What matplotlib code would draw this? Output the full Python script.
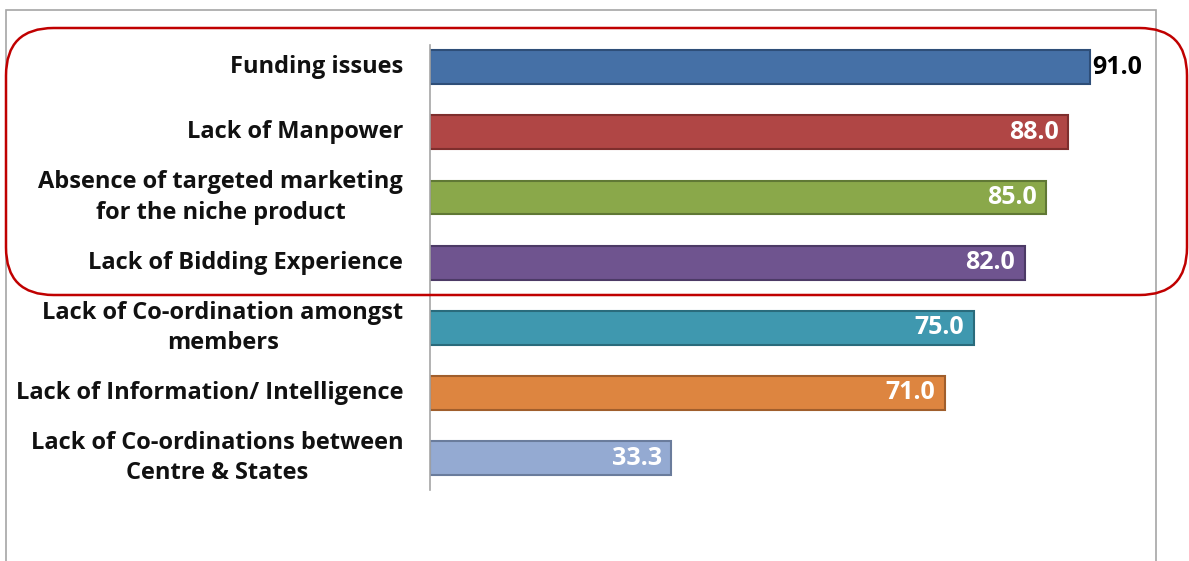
import matplotlib
matplotlib.use("Agg")
import matplotlib.pyplot as plt
from matplotlib.patches import FancyBboxPatch, Rectangle
import matplotlib.transforms as mtransforms

categories = [
    "Funding issues",
    "Lack of Manpower",
    "Absence of targeted marketing\nfor the niche product",
    "Lack of Bidding Experience",
    "Lack of Co-ordination amongst\nmembers",
    "Lack of Information/ Intelligence",
    "Lack of Co-ordinations between\nCentre & States",
]
values = [91.0, 88.0, 85.0, 82.0, 75.0, 71.0, 33.3]
colors = ["#4570A6", "#B04645", "#8AA84A", "#6F548F", "#3F98AF", "#DD8540", "#94AAD2"]
edges = ["#2E4E78", "#7E2E2D", "#607835", "#4C3A66", "#2A6B7C", "#A05E2C", "#6A7C9C"]
label_colors = ["black", "white", "white", "white", "white", "white", "white"]
outside = [True, False, False, False, False, False, False]

W, H = 1189, 561
fig = plt.figure(figsize=(W / 100, H / 100), dpi=100)
FONT = ["Open Sans", "DejaVu Sans"]

# outer gray frame
fig.patches.append(Rectangle((6 / W, -0.05), (1156 - 6) / W, (H - 10) / H + 0.05,
                             transform=fig.transFigure, fill=False,
                             edgecolor="#A6A6A6", linewidth=1.2))
# red rounded highlight box
fig.patches.append(FancyBboxPatch((6 / W, (H - 295) / H), (1187 - 6) / W, (295 - 28) / H,
                                  boxstyle="round,pad=0,rounding_size=0.04",
                                  transform=fig.transFigure, fill=False,
                                  edgecolor="#C00000", linewidth=1.8,
                                  mutation_aspect=W / H))

ax = fig.add_axes([430 / W, (H - 490) / H, (1155 - 430) / W, (490 - 45) / H])
ypos = list(range(len(categories)))
ax.barh(ypos, values, height=0.52, color=colors, edgecolor=edges, linewidth=1.5)
ax.set_xlim(0, 100)
ax.set_ylim(6.49, -0.34)
for s in ["top", "right", "bottom"]:
    ax.spines[s].set_visible(False)
ax.spines["left"].set_color("#A6A6A6")
ax.spines["left"].set_linewidth(1.2)
ax.set_xticks([])
ax.set_yticks([])

trans = mtransforms.blended_transform_factory(ax.transAxes, ax.transData)
for y, cat in zip(ypos, categories):
    ax.text(-0.037, y, cat, transform=trans, ha="right", va="center",
            multialignment="center", fontsize=17, fontweight="bold",
            family=FONT, color="#111111", linespacing=1.36)

for y, v, lc, out in zip(ypos, values, label_colors, outside):
    if out:
        ax.text(v + 0.4, y, f"{v:.1f}", ha="left", va="center", fontsize=18,
                fontweight="bold", family=FONT, color=lc)
    else:
        ax.text(v - 1.3, y, f"{v:.1f}", ha="right", va="center", fontsize=18,
                fontweight="bold", family=FONT, color=lc)

fig.savefig("out.png", dpi=100)
